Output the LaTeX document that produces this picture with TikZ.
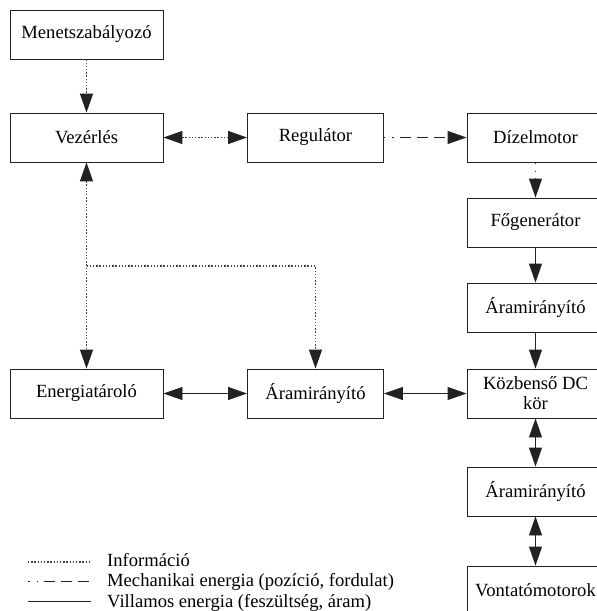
\documentclass[tikz,border=0pt]{standalone}
\usepackage{fontspec}
\setmainfont{Liberation Serif}
\usetikzlibrary{arrows.meta}
\definecolor{ink}{HTML}{222222}
\definecolor{dots}{HTML}{444444}

\begin{document}
\begin{tikzpicture}[x=1pt, y=-1pt, >={Triangle[length=19pt, width=13pt, color=ink]},
  box/.style={draw=ink, line width=0.9pt, minimum height=49pt, inner sep=0pt, align=center, font=\fontsize{18.6}{20}\selectfont},
  wbox/.style={box, minimum width=153pt},
  mbox/.style={box, minimum width=136pt},
  rbox/.style={box, minimum width=137pt},
  info/.style={draw=dots, line width=1.3pt, dash pattern=on 1.4pt off 1.8pt},
  mech/.style={draw=ink, line width=0.9pt, dash pattern=on 1.5pt off 7pt on 1.5pt off 6pt on 11pt off 6pt on 11pt off 6pt on 11pt off 20pt},
  elec/.style={draw=ink, line width=0.9pt},
  lbl/.style={anchor=base west, inner sep=0pt, font=\fontsize{18.6}{20}\selectfont}]
\path[use as bounding box] (0,0) rectangle (597,611);
% blocks
\node[wbox] (menet) at (86.5,34.5) {Menetszabályozó};
\node[wbox] (vez) at (86.5,137.5) {Vezérlés};
\node[mbox] (reg) at (315.5,137.5) {Regulátor};
\node[rbox] (diz) at (535.5,137.5) {Dízelmotor};
\node[rbox] (fogen) at (535.5,222.5) {Főgenerátor};
\node[rbox] (aram1) at (535.5,307.5) {Áramirányító};
\node[rbox] (kozb) at (535.5,393.5) {Közbenső DC\\kör};
\node[rbox] (aram3) at (535.5,491.5) {Áramirányító};
\node[rbox] (vont) at (535.5,590.5) {Vontatómotorok};
\node[wbox] (ener) at (86.5,393.5) {Energiatároló};
\node[mbox] (aram2) at (315.5,393.5) {Áramirányító};
% links
\draw[info, ->] (menet) -- (vez);
\draw[info, <->] (vez) -- (reg);
\draw[mech, ->] (reg) -- (diz);
\draw[mech, ->] (diz) -- (fogen);
\draw[elec, ->] (fogen) -- (aram1);
\draw[elec, ->] (aram1) -- (kozb);
\draw[elec, <->] (kozb) -- (aram3);
\draw[elec, <->] (aram3) -- (vont);
\draw[elec, <->] (ener) -- (aram2);
\draw[elec, <->] (aram2) -- (kozb);
\coordinate (jn) at (86.5,266);
\draw[info, <->] (vez) -- (ener);
\draw[info, ->] (jn) -| (aram2);
% legend
\draw[info] (28,562) -- (91,562);
\node[lbl] (linfo) at (107,566) {Információ};
\draw[mech] (28,581) -- (91,581);
\node[lbl] (lmech) at (107,586.5) {Mechanikai energia (pozíció, fordulat)};
\draw[elec] (28,601.5) -- (91,601.5);
\node[lbl] (lelec) at (107,607) {Villamos energia (feszültség, áram)};
\end{tikzpicture}
\end{document}
